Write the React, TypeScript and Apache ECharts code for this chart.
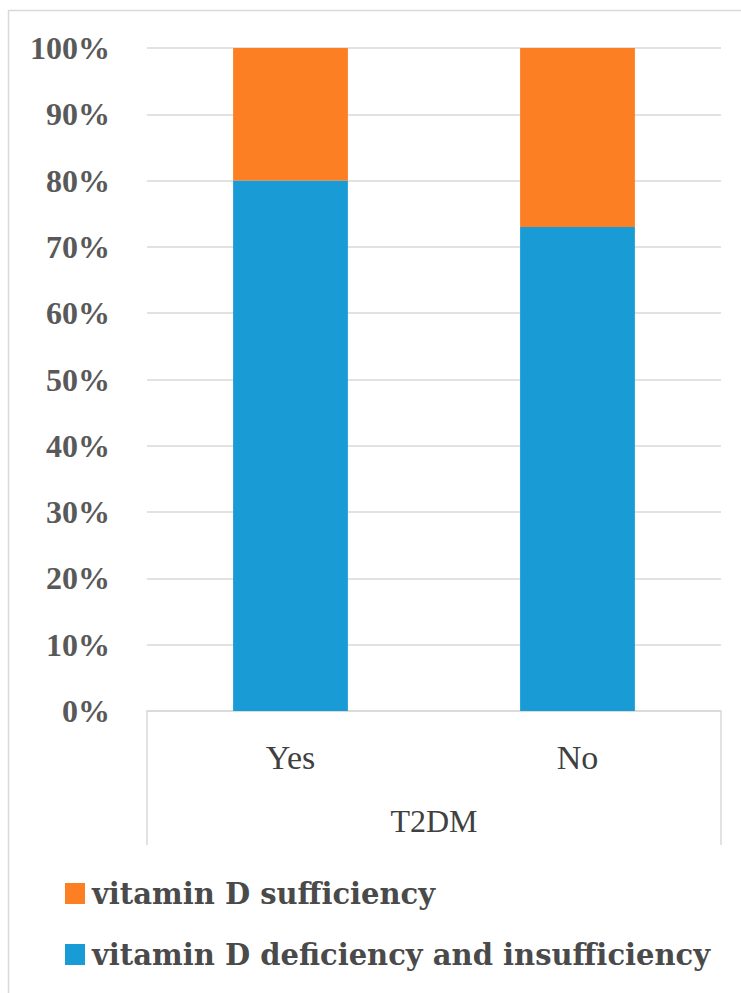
import React, { useEffect, useRef } from "react";
import * as echarts from "echarts";

const categories = ["Yes", "No"];
const groupLabel = ["T2DM"];
const deficiency = [0.8, 0.73];
const sufficiency = [0.2, 0.27];
const seriesNames = ["vitamin D deficiency and insufficiency", "vitamin D sufficiency"];

const FONT = "Liberation Serif";
const LEGEND_FONT = "DejaVu Serif";
const GRAY = "#d9d9d9";

export default function App() {
  const ref = useRef<HTMLDivElement>(null);
  useEffect(() => {
    if (!ref.current) return;
    const chart = echarts.init(ref.current, null, { renderer: "svg" });
    chart.setOption({
      animation: false,
      backgroundColor: "#ffffff",
      graphic: [
        {
          type: "rect",
          shape: { x: 8.5, y: 10.5, width: 760, height: 1000 },
          style: { fill: "none", stroke: GRAY, lineWidth: 1.5 },
          silent: true,
        },
      ],
      grid: { left: 147, right: 20, top: 48, bottom: 282, containLabel: false },
      legend: {
        orient: "vertical",
        left: 60,
        top: 874,
        itemGap: 32,
        icon: "rect",
        itemWidth: 20,
        itemHeight: 21,
        data: [seriesNames[1], seriesNames[0]],
        textStyle: { fontFamily: LEGEND_FONT, fontWeight: "bold", fontSize: 29, color: "#4a4a4a", padding: [0, 0, 0, 2] },
      },
      xAxis: [
        {
          type: "category",
          data: categories,
          position: "bottom",
          axisLine: { show: true, lineStyle: { color: GRAY, width: 1.5 } },
          axisTick: { show: false },
          axisLabel: { margin: 29, fontFamily: FONT, fontSize: 34, color: "#404040" },
        },
        {
          type: "category",
          data: groupLabel,
          position: "bottom",
          axisLine: { show: false },
          axisTick: { show: true, length: 134, lineStyle: { color: GRAY, width: 1.5 } },
          axisLabel: { margin: 94, fontFamily: FONT, fontSize: 32, color: "#404040" },
        },
      ],
      yAxis: {
        type: "value",
        min: 0,
        max: 1,
        interval: 0.1,
        axisLine: { show: false },
        axisTick: { show: false },
        splitLine: { lineStyle: { color: GRAY, width: 1.5 } },
        axisLabel: {
          margin: 37,
          fontFamily: FONT,
          fontWeight: "bold",
          fontSize: 32,
          color: "#595959",
          formatter: (v: number) => Math.round(v * 100) + "%",
        },
      },
      series: [
        {
          name: seriesNames[0],
          type: "bar",
          stack: "total",
          data: deficiency,
          barWidth: "40%",
          itemStyle: { color: "#199cd6" },
        },
        {
          name: seriesNames[1],
          type: "bar",
          stack: "total",
          data: sufficiency,
          barWidth: "40%",
          itemStyle: { color: "#fd7f23" },
        },
      ],
    });
    return () => chart.dispose();
  }, []);
  return <div ref={ref} style={{ position: "fixed", left: 0, top: 0, width: 741, height: 993 }} />;
}
